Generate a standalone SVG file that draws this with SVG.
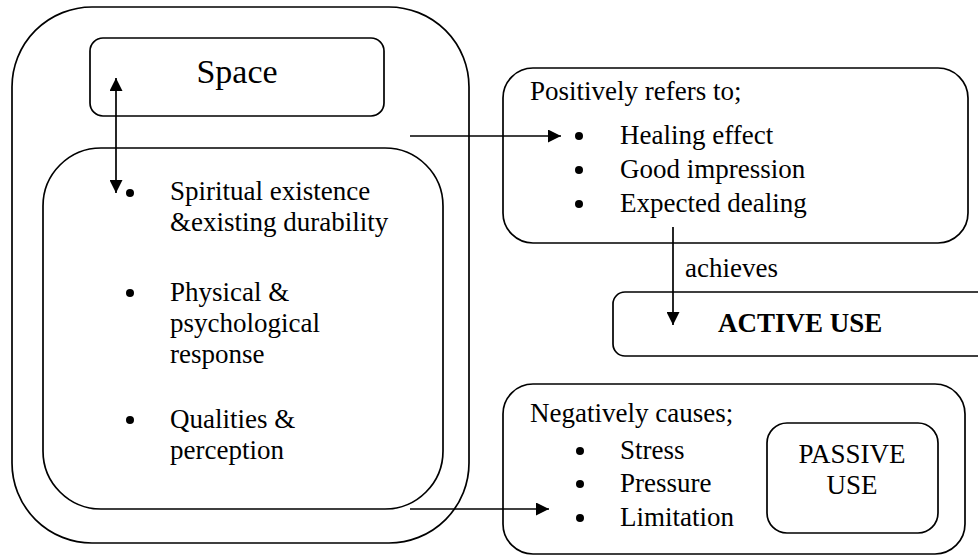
<svg xmlns="http://www.w3.org/2000/svg" width="978" height="556" viewBox="0 0 978 556">
  <defs>
    <marker id="arrow" viewBox="0 0 10 10" refX="10" refY="5" markerWidth="14" markerHeight="13" markerUnits="userSpaceOnUse" orient="auto-start-reverse">
      <path d="M0,0 L10,5 L0,10 z" fill="#000"/>
    </marker>
    <style>
      .box { fill: none; stroke: #000; stroke-width: 1.7; }
      .conn { fill: none; stroke: #000; stroke-width: 1.7; }
      .t { font-family: "Liberation Serif", "Times New Roman", serif; font-size: 27px; fill: #000; }
      .b { font-weight: bold; }
      .dot { fill: #000; }
    </style>
  </defs>
  <rect width="978" height="556" fill="#fff"/>

  <!-- outer container -->
  <g id="outer">
    <rect class="box" x="12" y="7" width="457" height="536" rx="80" ry="80"/>
  </g>

  <!-- Space -->
  <g id="space">
    <rect class="box" x="90" y="38" width="294" height="78" rx="13" ry="13"/>
    <text class="t" x="237" y="83" text-anchor="middle" style="font-size:34px">Space</text>
  </g>

  <!-- attributes of space -->
  <g id="attributes">
    <rect class="box" x="43" y="148" width="400" height="361" rx="58" ry="58"/>
    <circle class="dot" cx="130" cy="193" r="4"/>
    <text class="t" x="170" y="200">Spiritual existence</text>
    <text class="t" x="170" y="231">&amp;existing durability</text>
    <circle class="dot" cx="130" cy="293" r="4"/>
    <text class="t" x="170" y="301">Physical &amp;</text>
    <text class="t" x="170" y="332">psychological</text>
    <text class="t" x="170" y="363">response</text>
    <circle class="dot" cx="130" cy="420" r="4"/>
    <text class="t" x="170" y="428">Qualities &amp;</text>
    <text class="t" x="170" y="459">perception</text>
  </g>

  <!-- positive effects -->
  <g id="positive">
    <rect class="box" x="503" y="68" width="465" height="175" rx="30" ry="30"/>
    <text class="t" x="530" y="100">Positively refers to;</text>
    <circle class="dot" cx="579" cy="136" r="4"/>
    <text class="t" x="620" y="144">Healing effect</text>
    <circle class="dot" cx="579" cy="170" r="4"/>
    <text class="t" x="620" y="178">Good impression</text>
    <circle class="dot" cx="579" cy="204" r="4"/>
    <text class="t" x="620" y="212">Expected dealing</text>
  </g>

  <!-- active use -->
  <g id="active">
    <rect class="box" x="613" y="292" width="380" height="64" rx="12" ry="12"/>
    <text class="t b" x="718" y="332">ACTIVE USE</text>
  </g>

  <!-- negative effects -->
  <g id="negative">
    <rect class="box" x="503" y="384" width="462" height="170" rx="30" ry="30"/>
    <text class="t" x="530" y="422">Negatively causes;</text>
    <circle class="dot" cx="580" cy="451" r="4"/>
    <text class="t" x="620" y="459">Stress</text>
    <circle class="dot" cx="580" cy="484" r="4"/>
    <text class="t" x="620" y="492">Pressure</text>
    <circle class="dot" cx="580" cy="518" r="4"/>
    <text class="t" x="620" y="526">Limitation</text>
  </g>

  <!-- passive use -->
  <g id="passive">
    <rect class="box" x="767" y="423" width="171" height="110" rx="20" ry="20"/>
    <text class="t" x="852" y="463" text-anchor="middle">PASSIVE</text>
    <text class="t" x="852" y="494" text-anchor="middle">USE</text>
  </g>

  <!-- connectors -->
  <g id="connectors">
    <line class="conn" x1="116" y1="78" x2="116" y2="193" marker-start="url(#arrow)" marker-end="url(#arrow)"/>
    <line class="conn" x1="410" y1="136" x2="561" y2="136" marker-end="url(#arrow)"/>
    <line class="conn" x1="673" y1="227" x2="673" y2="325" marker-end="url(#arrow)"/>
    <text class="t" x="685" y="277">achieves</text>
    <line class="conn" x1="410" y1="509" x2="549" y2="509" marker-end="url(#arrow)"/>
  </g>
</svg>
